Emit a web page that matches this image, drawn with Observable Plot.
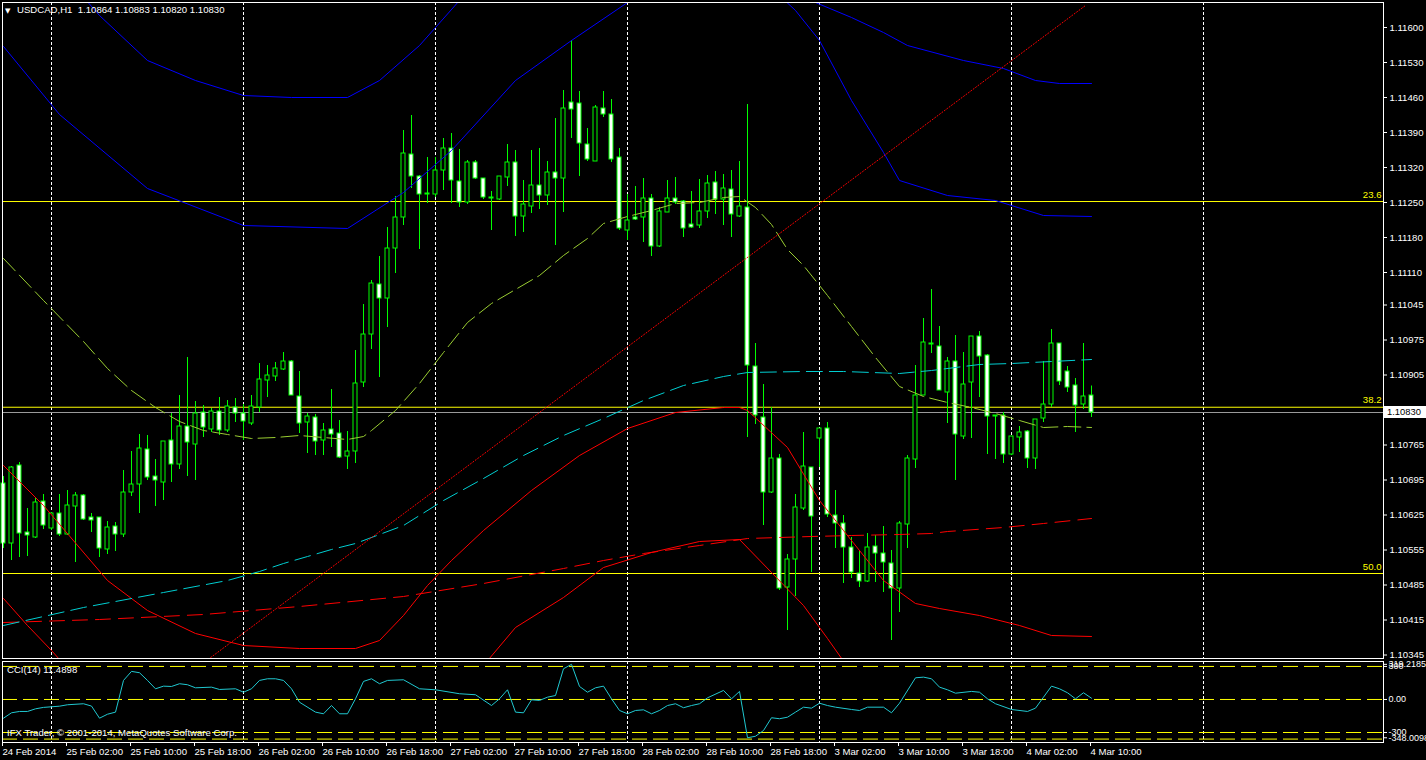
<!DOCTYPE html>
<html><head><meta charset="utf-8">
<script src="https://cdn.jsdelivr.net/npm/d3@7"></script>
<script src="https://cdn.jsdelivr.net/npm/@observablehq/plot@0.6"></script>
<style>
html,body{margin:0;padding:0;background:#000;}
#wrap{position:relative;width:1426px;height:760px;background:#000;overflow:hidden;font-family:"Liberation Sans",Arial,sans-serif;}
.lbl{position:absolute;color:#fff;font-size:9.6px;line-height:10px;white-space:pre;}
#wrap svg{position:absolute;left:0;}
</style></head><body><div id="wrap"></div><script>
// ---------- DATA ----------
const opens = [1.10688,1.10568,1.10724,1.10590,1.10580,1.10652,1.10598,1.10628,1.10586,1.10642,
1.10664,1.10620,1.10620,1.10556,1.10602,1.10586,1.10670,1.10686,1.10756,1.10702,
1.10690,1.10774,1.10726,1.10802,1.10766,1.10830,1.10796,1.10832,1.10794,1.10840,
1.10828,1.10808,1.10840,1.10894,1.10902,1.10916,1.10932,1.10862,1.10810,1.10820,
1.10774,1.10796,1.10788,1.10742,1.10752,1.10890,1.10986,1.11086,1.11058,1.11158,
1.11220,1.11346,1.11302,1.11266,1.11266,1.11314,1.11358,1.11292,1.11250,1.11330,
1.11298,1.11260,1.11256,1.11300,1.11330,1.11222,1.11242,1.11284,1.11264,1.11310,
1.11298,1.11450,1.11448,1.11366,1.11332,1.11438,1.11426,1.11340,1.11194,1.11220,
1.11220,1.11258,1.11162,1.11230,1.11258,1.11252,1.11206,1.11204,1.11232,1.11290,
1.11256,1.11276,1.11222,1.11240,1.10922,1.10820,1.10670,1.10738,1.10480,1.10536,
1.10638,1.10720,1.10778,1.10798,1.10624,1.10608,1.10560,1.10508,1.10492,1.10562,
1.10548,1.10528,1.10478,1.10606,1.10736,1.10864,1.10966,1.10962,1.10870,1.10932,
1.10782,1.10890,1.10982,1.10944,1.10822,1.10824,1.10746,1.10780,1.10792,1.10738,
1.10818,1.10846,1.10968,1.10912,1.10884,1.10846,1.10864];
const highs = [1.10702,1.10722,1.10730,1.10638,1.10658,1.10666,1.10630,1.10666,1.10674,1.10670,
1.10666,1.10628,1.10620,1.10612,1.10610,1.10714,1.10752,1.10786,1.10784,1.10736,
1.10772,1.10828,1.10864,1.10940,1.10852,1.10844,1.10838,1.10860,1.10854,1.10858,
1.10846,1.10864,1.10928,1.10924,1.10930,1.10950,1.10934,1.10912,1.10828,1.10826,
1.10808,1.10876,1.10814,1.10792,1.10954,1.11046,1.11094,1.11142,1.11200,1.11262,
1.11394,1.11424,1.11304,1.11340,1.11340,1.11378,1.11388,1.11356,1.11334,1.11334,
1.11298,1.11272,1.11302,1.11366,1.11354,1.11294,1.11354,1.11358,1.11332,1.11418,
1.11474,1.11574,1.11472,1.11398,1.11444,1.11472,1.11456,1.11358,1.11266,1.11282,
1.11298,1.11266,1.11240,1.11294,1.11300,1.11254,1.11272,1.11296,1.11304,1.11312,
1.11306,1.11314,1.11332,1.11446,1.10968,1.10886,1.10840,1.10746,1.10546,1.10666,
1.10790,1.10720,1.10798,1.10810,1.10674,1.10624,1.10580,1.10554,1.10588,1.10584,
1.10602,1.10554,1.10612,1.10744,1.10924,1.11018,1.11076,1.11002,1.10940,1.10984,
1.10950,1.10982,1.10992,1.10946,1.10824,1.10830,1.10782,1.10802,1.10794,1.10816,
1.10932,1.10996,1.10968,1.10922,1.10898,1.10968,1.10883];
const lows = [1.10558,1.10534,1.10540,1.10542,1.10578,1.10596,1.10594,1.10582,1.10584,1.10530,
1.10614,1.10590,1.10540,1.10546,1.10552,1.10580,1.10662,1.10628,1.10694,1.10642,
1.10654,1.10690,1.10716,1.10702,1.10694,1.10780,1.10790,1.10784,1.10790,1.10810,
1.10774,1.10804,1.10830,1.10860,1.10892,1.10914,1.10864,1.10788,1.10748,1.10744,
1.10744,1.10760,1.10738,1.10716,1.10728,1.10880,1.10956,1.10900,1.11000,1.11108,
1.11204,1.11278,1.11156,1.11248,1.11260,1.11274,1.11248,1.11240,1.11246,1.11296,
1.11256,1.11194,1.11254,1.11282,1.11182,1.11190,1.11228,1.11236,1.11244,1.11164,
1.11230,1.11378,1.11302,1.11332,1.11332,1.11420,1.11330,1.11194,1.11174,1.11214,
1.11170,1.11142,1.11160,1.11230,1.11246,1.11180,1.11198,1.11198,1.11218,1.11226,
1.11204,1.11180,1.11220,1.10780,1.10806,1.10604,1.10668,1.10474,1.10394,1.10462,
1.10634,1.10510,1.10720,1.10620,1.10558,1.10488,1.10498,1.10480,1.10490,1.10490,
1.10470,1.10374,1.10430,1.10558,1.10718,1.10864,1.10948,1.10874,1.10808,1.10694,
1.10776,1.10778,1.10860,1.10746,1.10736,1.10728,1.10744,1.10750,1.10718,1.10716,
1.10810,1.10840,1.10884,1.10870,1.10790,1.10836,1.10820];
const closes = [1.10568,1.10720,1.10588,1.10584,1.10650,1.10604,1.10628,1.10586,1.10644,1.10664,
1.10616,1.10614,1.10558,1.10600,1.10586,1.10670,1.10686,1.10758,1.10700,1.10694,
1.10772,1.10726,1.10802,1.10770,1.10828,1.10800,1.10832,1.10794,1.10842,1.10828,
1.10812,1.10842,1.10896,1.10904,1.10918,1.10932,1.10864,1.10808,1.10822,1.10772,
1.10794,1.10786,1.10740,1.10752,1.10888,1.10986,1.11088,1.11058,1.11158,1.11220,
1.11348,1.11302,1.11266,1.11268,1.11314,1.11358,1.11294,1.11250,1.11330,1.11298,
1.11260,1.11258,1.11302,1.11330,1.11222,1.11246,1.11284,1.11264,1.11310,1.11298,
1.11438,1.11436,1.11368,1.11336,1.11440,1.11426,1.11336,1.11198,1.11214,1.11216,
1.11258,1.11162,1.11232,1.11258,1.11250,1.11198,1.11200,1.11232,1.11288,1.11256,
1.11278,1.11226,1.11242,1.10924,1.10824,1.10670,1.10738,1.10478,1.10536,1.10640,
1.10722,1.10622,1.10798,1.10626,1.10608,1.10560,1.10510,1.10492,1.10560,1.10548,
1.10530,1.10478,1.10608,1.10738,1.10864,1.10970,1.10968,1.10874,1.10932,1.10786,
1.10886,1.10982,1.10942,1.10822,1.10824,1.10746,1.10782,1.10790,1.10738,1.10816,
1.10846,1.10968,1.10892,1.10880,1.10844,1.10862,1.10830];

// indicator lines: [bar index, price]
const maMid = [[0,1.11138],[5,1.11054],[10,1.10972],[13,1.10918],[16,1.10874],[19,1.10840],[22,1.10812],[25,1.10794],[28,1.10786],[31,1.10778],[34,1.10780],[37,1.10784],[40,1.10780],[43,1.10776],[45,1.10782],[46,1.10794],[49,1.10834],[52,1.10888],[55,1.10950],[58,1.11010],[61,1.11048],[64,1.11076],[67,1.11104],[70,1.11144],[73,1.11178],[75,1.11208],[78,1.11222],[81,1.11234],[84,1.11248],[87,1.11250],[90,1.11260],[92,1.11262],[94,1.11240],[96,1.11206],[98,1.11156],[100,1.11124],[103,1.11064],[106,1.11002],[109,1.10940],[112,1.10882],[115,1.10862],[118,1.10850],[121,1.10840],[124,1.10828],[127,1.10814],[130,1.10800],[133,1.10802],[136,1.10800]];
const upperInner = [[0,1.11562],[7,1.11426],[18,1.11278],[30,1.11204],[43,1.11198],[50,1.11270],[56,1.11354],[64,1.11494],[71,1.11574],[78,1.11650],[81,1.11684],[95,1.11694],[99,1.11634],[102,1.11574],[106,1.11454],[110,1.11350],[112,1.11294],[118,1.11264],[124,1.11254],[130,1.11224],[136,1.11222]];
const upperOuter = [[0,1.11830],[6,1.11734],[12,1.11624],[18,1.11534],[24,1.11494],[30,1.11464],[36,1.11460],[43,1.11460],[47,1.11494],[52,1.11564],[57,1.11654],[60,1.11714],[95,1.11714],[100,1.11660],[106,1.11620],[110,1.11590],[113,1.11564],[120,1.11534],[125,1.11518],[129,1.11494],[132,1.11488],[136,1.11488]];
const lowerInner = [[0,1.10724],[5,1.10644],[13,1.10494],[18,1.10434],[24,1.10388],[30,1.10364],[37,1.10358],[44,1.10358],[47,1.10374],[50,1.10424],[53,1.10484],[56,1.10534],[60,1.10594],[66,1.10674],[72,1.10744],[78,1.10798],[84,1.10830],[90,1.10840],[92,1.10840],[93,1.10834],[98,1.10760],[102,1.10654],[105,1.10594],[110,1.10494],[114,1.10448],[117,1.10438],[122,1.10424],[127,1.10404],[131,1.10384],[136,1.10382]];
const lowerOuter = [[0,1.10458],[3,1.10404],[6,1.10354],[9,1.10300],[55,1.10254],[60,1.10324],[64,1.10400],[70,1.10460],[75,1.10520],[81,1.10550],[87,1.10572],[92,1.10576],[96,1.10510],[100,1.10444],[103,1.10378],[106,1.10310],[110,1.10214]];
const maSlow = [[0,1.10404],[10,1.10440],[20,1.10470],[28,1.10494],[32,1.10512],[35,1.10528],[38,1.10542],[41,1.10556],[44,1.10568],[50,1.10604],[55,1.10654],[60,1.10698],[65,1.10744],[70,1.10784],[75,1.10818],[80,1.10854],[85,1.10884],[90,1.10902],[93,1.10910],[100,1.10912],[105,1.10912],[112,1.10908],[116,1.10914],[119,1.10920],[122,1.10926],[126,1.10928],[131,1.10932],[136,1.10936]];
const maSlowest = [[0,1.10410],[12,1.10416],[25,1.10426],[37,1.10442],[50,1.10462],[60,1.10488],[70,1.10518],[75,1.10534],[80,1.10548],[87,1.10564],[93,1.10578],[101,1.10582],[106,1.10584],[112,1.10586],[116,1.10588],[118,1.10592],[125,1.10600],[130,1.10608],[136,1.10618]];
const trendLine = [[25.9,1.10340],[135.25,1.11644]];

const fibTop = 1.11917, fibBottom = 1.09099;
const fibLevels = [23.6, 38.2, 50.0, 61.8];

const cci = [[0,-170],[1,-121],[2,-109],[3,-109],[4,-85],[5,-72],[7,-61],[8,-48],[10,-39],[11,-60],[12,-170],[13,-134],[14,-115],[15,173],[16,255],[17,243],[18,173],[19,97],[20,121],[21,118],[22,143],[23,134],[24,106],[26,112],[27,91],[29,97],[30,66],[31,97],[32,173],[33,188],[34,188],[35,173],[36,97],[37,-25],[39,-115],[40,-130],[41,-55],[42,-130],[43,-130],[44,6],[45,164],[46,188],[47,143],[48,173],[50,179],[52,97],[54,88],[57,52],[59,43],[61,-55],[62,6],[63,88],[64,-115],[65,-121],[66,-3],[67,-9],[68,21],[69,36],[70,279],[71,319.2185],[72,118],[73,66],[74,106],[75,121],[76,6],[77,-100],[78,-130],[79,-100],[80,-94],[81,-130],[82,-100],[83,-55],[84,-39],[85,-75],[86,-55],[87,-39],[88,15],[90,82],[91,6],[92,73],[93,-348.0098],[94,-334],[95,-282],[96,-166],[97,-175],[98,-161],[99,-115],[100,-70],[101,-79],[102,-34],[103,-55],[104,-70],[106,-91],[107,-100],[108,-70],[110,-70],[111,-121],[112,-34],[114,197],[115,203],[116,188],[117,112],[118,88],[119,57],[121,73],[122,66],[123,6],[124,-39],[126,-91],[128,-109],[129,-79],[130,21],[131,121],[132,97],[133,61],[134,6],[135,61],[136,11.4898]];
const cciLevels = [300, 0, -300, -360];
const cciTickValues = [319.2185, 300, 0, -300, -348.0098];
const cciTickLabels = ["319.2185", "300", "0.00", "-300", "-348.0098"];

const priceTickLabels = ["1.11600","1.11530","1.11460","1.11390","1.11320","1.11250","1.11180","1.11110","1.11045","1.10975","1.10905","1.10765","1.10695","1.10625","1.10555","1.10485","1.10415","1.10345"];
const dateTickBars = [0,8,16,24,32,40,48,56,64,72,80,88,96,104,112,120,128,136];
const dateLabels = ["24 Feb 2014","25 Feb 02:00","25 Feb 10:00","25 Feb 18:00","26 Feb 02:00","26 Feb 10:00","26 Feb 18:00","27 Feb 02:00","27 Feb 10:00","27 Feb 18:00","28 Feb 02:00","28 Feb 10:00","28 Feb 18:00","3 Mar 02:00","3 Mar 10:00","3 Mar 18:00","4 Mar 02:00","4 Mar 10:00"];
const dayStartBars = [6, 30, 54, 78, 102, 126, 150];

const symbol = "USDCAD,H1";
const lastBar = {open: 1.10864, high: 1.10883, low: 1.10820, close: 1.10830};
const cciTitle = "CCI(14) 11.4898";
const copyright = "IFX Trader, \u00A9 2001-2014, MetaQuotes Software Corp.";

// ---------- BUILD ----------
const candles = opens.map((o, i) => ({i, o, h: highs[i], l: lows[i], c: closes[i]}));
const fibData = fibLevels.map(l => ({level: l, label: l.toFixed(1), price: fibTop - (fibTop - fibBottom) * l / 100}));
const fibVisible = fibData.filter(d => d.price >= 1.10338);
const xDomain = [-0.125, 172.5];
const font = "Liberation Sans, Arial, sans-serif";
const FS = 9.6;
const GREEN = "#00ff00";
const lineOpts = (stroke, dash) => ({x: d => d[0], y: d => d[1], stroke, strokeWidth: 1, strokeDasharray: dash, clip: true, curve: "linear"});

const main = Plot.plot({
  width: 1426, height: 660,
  marginLeft: 2, marginRight: 43, marginTop: 2, marginBottom: 2,
  style: {background: "#000", color: "#fff", fontFamily: font, fontSize: FS + "px"},
  x: {domain: xDomain, axis: null},
  y: {domain: [1.10338, 1.11650], axis: null},
  marks: [
    Plot.ruleX(dayStartBars, {stroke: "#fff", strokeDasharray: "3,2"}),
    Plot.ruleY(fibVisible.map(d => d.price), {stroke: "#ffff00", strokeWidth: 1}),
    Plot.ruleY([lastBar.close], {stroke: "#9a9a9a"}),
    Plot.ruleX(candles, {x: "i", y1: "l", y2: "h", stroke: GREEN}),
    Plot.rect(candles, {x1: d => d.i - 0.25, x2: d => d.i + 0.25, y1: "o", y2: "c",
      fill: d => d.c >= d.o ? "#000" : "#fff", stroke: GREEN, strokeWidth: 1}),
    Plot.line(lowerOuter, lineOpts("#ff0000")),
    Plot.line(lowerInner, lineOpts("#ff0000")),
    Plot.line(upperOuter, lineOpts("#0000ff")),
    Plot.line(upperInner, lineOpts("#0000ff")),
    Plot.line(maSlowest, lineOpts("#ff0000", "15,8")),
    Plot.line(maSlow, lineOpts("#00ced1", "16,7")),
    Plot.line(maMid, lineOpts("#9acd32", "17,6")),
    Plot.line(trendLine, lineOpts("#ff0000", "1,2")),
    Plot.text(fibVisible, {y: "price", text: "label", frameAnchor: "right", textAnchor: "end", dx: -2, dy: -7, fill: "#ffff00", fontSize: FS}),
    Plot.frame({stroke: "#fff"}),
    Plot.axisY(priceTickLabels.map(Number), {anchor: "right", tickSize: 3, tickPadding: 3, stroke: "#fff", fill: "#fff",
      tickFormat: d => d.toFixed(5), fontSize: FS})
  ]
});
main.style.top = "0px";

const cciMap = new Map(cciTickValues.map((v, k) => [v, cciTickLabels[k]]));
const dateMap = new Map(dateTickBars.map((b, k) => [b, dateLabels[k]]));
const cciPlot = Plot.plot({
  width: 1426, height: 100,
  marginLeft: 2, marginRight: 43, marginTop: 1, marginBottom: 18,
  style: {background: "transparent", color: "#fff", fontFamily: font, fontSize: FS + "px"},
  x: {domain: xDomain, axis: null},
  y: {domain: [-391, 345], axis: null},
  marks: [
    Plot.ruleX(dayStartBars, {stroke: "#fff", strokeDasharray: "3,2"}),
    Plot.ruleY(cciLevels, {stroke: "#ffff00", strokeDasharray: "15,6"}),
    Plot.line(cci, {x: d => d[0], y: d => d[1], stroke: "#20c8d0", strokeWidth: 1}),
    Plot.frame({stroke: "#fff"}),
    Plot.axisY(cciTickValues, {anchor: "right", tickSize: 3, tickPadding: 2, stroke: "#fff", fill: "#fff",
      tickFormat: d => cciMap.get(d), fontSize: 9}),
    Plot.axisX(dateTickBars, {anchor: "bottom", tickSize: 4, tickPadding: 2, stroke: "#fff", fill: "#fff",
      textAnchor: "start", dx: -1, tickFormat: d => dateMap.get(d), fontSize: FS})
  ]
});
cciPlot.style.top = "660px";

const wrap = document.getElementById("wrap");
wrap.appendChild(main);
wrap.appendChild(cciPlot);

function addLabel(text, left, top, extra) {
  const el = document.createElement("div");
  el.className = "lbl";
  el.textContent = text;
  el.style.left = left + "px";
  el.style.top = top + "px";
  if (extra) Object.assign(el.style, extra);
  wrap.appendChild(el);
  return el;
}
addLabel("\u25BC", 5, 6, {fontFamily: "DejaVu Sans", fontSize: "7px"});
addLabel(symbol + "  " + [lastBar.open, lastBar.high, lastBar.low, lastBar.close].map(v => v.toFixed(5)).join(" "), 17, 5);
addLabel(cciTitle, 7, 665);
addLabel(copyright, 7, 728);
const yPx = main.scale("y").apply(lastBar.close);
addLabel(lastBar.close.toFixed(5), 1384, Math.round(yPx) - 6,
  {background: "#fff", color: "#000", width: "39px", height: "12px", lineHeight: "12px", paddingLeft: "3px", fontSize: "9.4px"});
</script></body></html>
